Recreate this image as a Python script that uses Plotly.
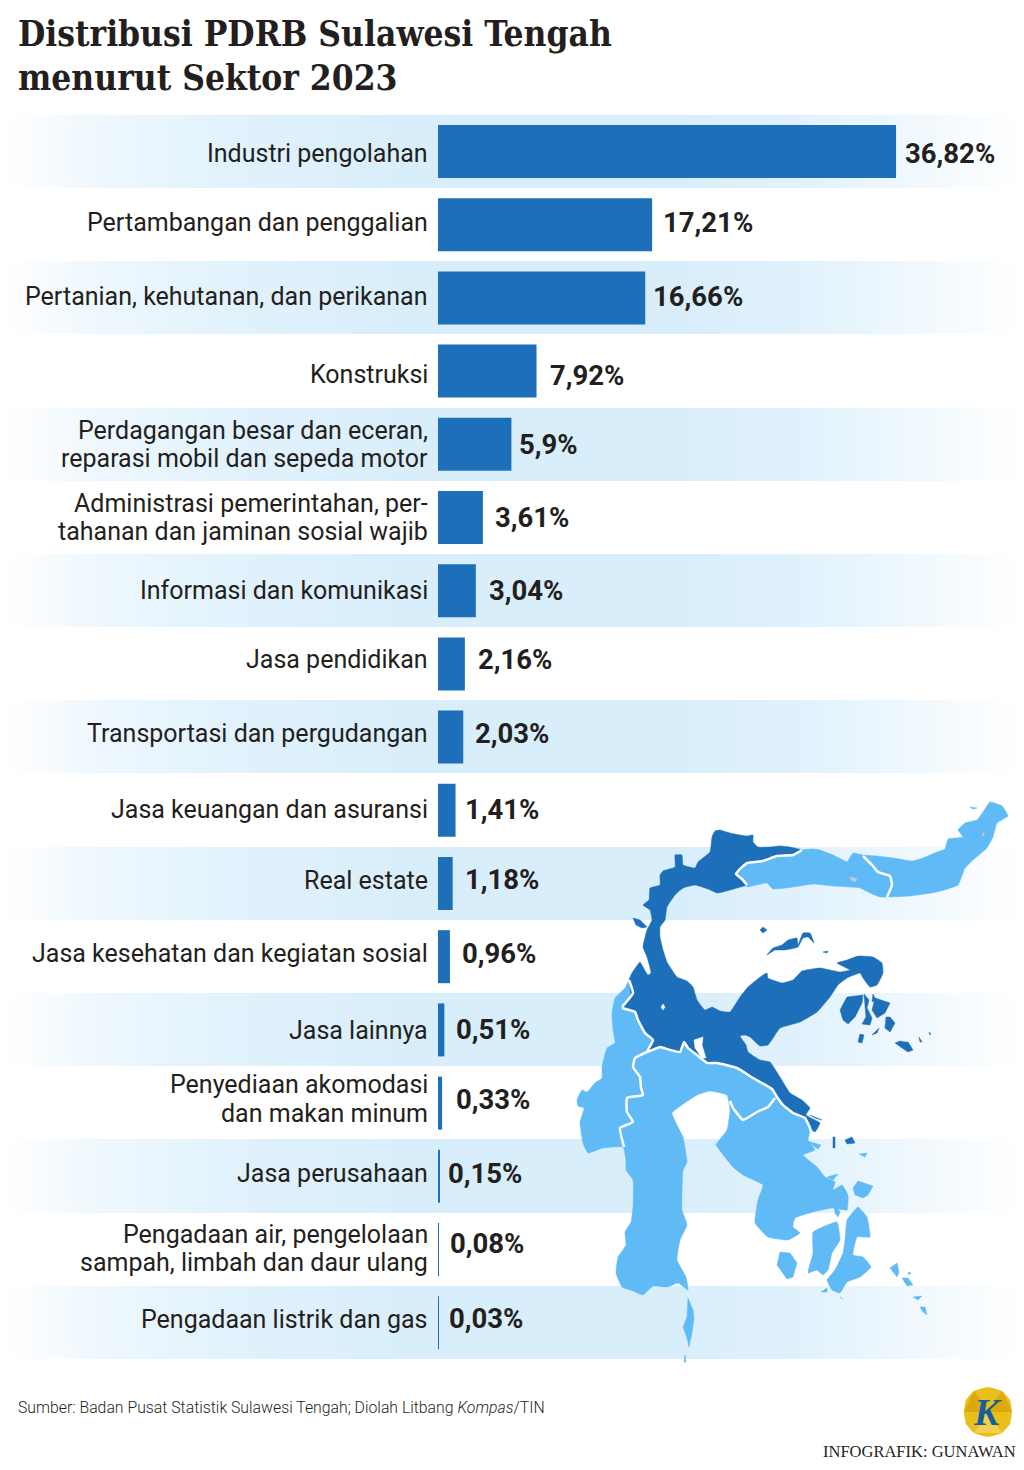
import numpy as np
import plotly.graph_objects as go

TITLE_LINES = ["Distribusi PDRB Sulawesi Tengah", "menurut Sektor 2023"]
SOURCE = "Sumber: Badan Pusat Statistik Sulawesi Tengah; Diolah Litbang <i>Kompas</i>/TIN"
CREDIT = "INFOGRAFIK: GUNAWAN"
categories = ["Industri pengolahan", "Pertambangan dan penggalian", "Pertanian, kehutanan, dan perikanan", "Konstruksi",
    "Perdagangan besar dan eceran,|reparasi mobil dan sepeda motor",
    "Administrasi pemerintahan, per-|tahanan dan jaminan sosial wajib",
    "Informasi dan komunikasi", "Jasa pendidikan", "Transportasi dan pergudangan", "Jasa keuangan dan asuransi",
    "Real estate", "Jasa kesehatan dan kegiatan sosial", "Jasa lainnya", "Penyediaan akomodasi|dan makan minum",
    "Jasa perusahaan", "Pengadaan air, pengelolaan|sampah, limbah dan daur ulang", "Pengadaan listrik dan gas"]
values = [36.82, 17.21, 16.66, 7.92, 5.9, 3.61, 3.04, 2.16, 2.03, 1.41, 1.18, 0.96, 0.51, 0.33, 0.15, 0.08, 0.03]
value_text = ["36,82%", "17,21%", "16,66%", "7,92%", "5,9%", "3,61%", "3,04%", "2,16%", "2,03%", "1,41%", "1,18%", "0,96%", "0,51%", "0,33%", "0,15%", "0,08%", "0,03%"]

# layout tuning (pixels)
value_gap = [7, 9, 6, 11, 6, 10, 11, 11, 10, 7, 10, 10, 10, 12, 6, 9, 9]
value_dy = [1.5, -2.7, -1, 3.9, -.3, -.5, -.7, -4.9, -4.1, -1.3, -4.5, -3.7, 0, -4.1, -3.3, -6.5, -4.7]
label_dy = [1.5, -2.7, -1, 2.9, 0, 0, -.7, -4.9, -4.1, -1.3, -3.5, -3.7, 1, -4, -3.3, -1, -3.7]
BLUE, LIGHT, BAND = "#1c6fb8", "#60baf5", "#d9eefb"
PXU, ROW, Y0 = 12.44, 73.2, 151.5

# map outlines (page pixels)
map_dark = [
 [(712,837),(715,831),(720,830),(730,833),(740,835),(747,836),(753,835),(753,842),(758,847),(770,847),(780,846),(790,847),(802,850),(793,855),(777,856),(763,861),(747,863),(739,870),(736,874),(742,879),(747,885),(737,888),(723,892),(717,893),(708,889),(695,885),(683,888),(675,895),(667,907),(665,920),(660,927),(660,937),(663,950),(667,962),(677,977),(687,981),(693,987),(697,1000),(705,1010),(712,1007),(720,1011),(730,1012),(740,997),(748,987),(763,975),(767,973),(768,978),(782,983),(793,980),(802,971),(820,968),(830,970),(840,972),(850,970),(837,963),(847,960),(858,956),(873,957),(882,963),(883,973),(877,985),(870,987),(863,978),(860,973),(847,978),(838,985),(830,997),(817,1012),(800,1022),(780,1028),(775,1035),(768,1045),(760,1046),(750,1037),(745,1035),(740,1036),(746,1045),(748,1052),(760,1060),(770,1062),(780,1077),(790,1093),(802,1100),(810,1108),(806,1115),(820,1123),(815,1132),(810,1128),(805,1118),(793,1113),(783,1105),(777,1097),(772,1089),(757,1082),(753,1078),(737,1068),(717,1063),(707,1063),(697,1055),(688,1048),(684,1042),(680,1052),(670,1050),(660,1047),(647,1052),(653,1040),(645,1033),(638,1020),(635,1012),(622,1008),(630,995),(629,980),(632,973),(640,962),(643,967),(648,975),(651,973),(647,957),(643,947),(647,930),(652,920),(650,910),(643,905),(649,900),(650,888),(660,885),(660,875),(663,871),(675,867),(675,855),(682,855),(683,865),(695,868),(698,862),(710,852)],
 [(760,930),(763,927),(767,930),(763,933)],
 [(767,955),(773,948),(782,945),(788,940),(797,938),(798,945),(803,933),(810,933),(814,943),(808,937),(803,938),(798,947),(785,950),(775,950)],
 [(633,918),(640,920),(647,927),(642,928),(636,925)],
 [(840,1010),(847,997),(863,995),(862,1003),(855,1017),(848,1024),(843,1020)],
 [(864,994),(869,1000),(867,1008),(872,1018),(870,1025),(862,1024),(866,1017),(865,1003)],
 [(875,998),(890,1003),(885,1013),(877,1018),(872,1010)],
 [(873,994),(876,1000),(872,1002)],
 [(886,1017),(890,1017),(895,1023),(890,1032),(885,1028)],
 [(860,1034),(864,1035),(862,1043),(858,1042)],
 [(872,1035),(879,1028),(877,1033)],
 [(895,1043),(900,1041),(905,1042),(908,1042),(913,1050),(908,1052),(902,1048)],
 [(919,1037),(922,1042),(920,1042)],
 [(929,1032),(931,1034),(930,1035)],
 [(823,952),(828,951),(827,953)],
 [(810,1115),(822,1120),(815,1118)],
 [(833,1137),(835,1137),(835,1148),(833,1148)],
 [(845,1140),(852,1137),(855,1143),(847,1144)],
]
map_light = [
 [(802,850),(812,849),(820,850),(833,855),(843,860),(847,862),(853,853),(863,855),(877,856),(893,858),(912,861),(923,858),(937,852),(945,849),(948,839),(963,837),(958,830),(965,823),(977,820),(983,812),(990,802),(1002,806),(1008,816),(997,823),(993,837),(987,848),(973,860),(965,868),(958,885),(937,892),(910,896),(880,897),(870,893),(860,888),(833,886),(813,884),(793,887),(773,889),(767,883),(747,887),(747,885),(742,879),(736,874),(739,870),(747,863),(763,861),(777,856),(793,855)],
 [(629,980),(625,988),(615,998),(612,1013),(613,1030),(615,1043),(607,1048),(602,1067),(602,1078),(595,1083),(587,1092),(582,1090),(577,1100),(578,1106),(584,1108),(580,1122),(583,1143),(588,1153),(603,1148),(623,1147),(626,1160),(626,1170),(633,1180),(633,1207),(631,1222),(625,1232),(626,1245),(618,1257),(616,1273),(622,1287),(633,1291),(643,1295),(653,1286),(667,1287),(678,1283),(688,1290),(686,1277),(677,1260),(680,1240),(687,1225),(682,1210),(682,1190),(683,1170),(687,1162),(683,1137),(678,1127),(672,1113),(697,1095),(710,1091),(727,1095),(730,1110),(727,1130),(717,1143),(716,1145),(733,1167),(743,1175),(763,1185),(758,1200),(755,1223),(768,1237),(788,1240),(800,1233),(793,1227),(795,1218),(813,1212),(832,1208),(847,1210),(848,1195),(842,1185),(833,1190),(835,1182),(825,1177),(817,1167),(803,1155),(815,1150),(808,1140),(810,1132),(810,1128),(805,1118),(793,1113),(783,1105),(777,1097),(772,1089),(757,1082),(753,1078),(737,1068),(717,1063),(707,1063),(697,1055),(688,1048),(684,1042),(680,1052),(670,1050),(660,1047),(647,1052),(653,1040),(645,1033),(638,1020),(635,1012),(622,1008),(630,995)],
 [(853,1188),(858,1181),(873,1186),(868,1195),(863,1198),(855,1195)],
 [(845,1240),(847,1220),(858,1207),(867,1217),(870,1237),(863,1237),(857,1237),(853,1255),(863,1257),(871,1267),(860,1277),(847,1282),(840,1293),(832,1290),(827,1280),(835,1270),(843,1253)],
 [(813,1232),(837,1222),(840,1240),(832,1253),(828,1270),(823,1275),(817,1270),(808,1273),(813,1253)],
 [(780,1252),(790,1253),(797,1263),(793,1277),(787,1279),(777,1265)],
 [(821,1292),(827,1288),(827,1292)],
 [(840,1297),(843,1299),(841,1298)],
 [(890,1268),(897,1263),(899,1272),(897,1277)],
 [(902,1278),(908,1278),(913,1285),(907,1286)],
 [(913,1297),(922,1296),(918,1300)],
 [(920,1307),(925,1307),(927,1315),(923,1312)],
 [(908,1272),(911,1273),(909,1275)],
 [(859,1154),(867,1153),(865,1157)],
 [(807,1141),(821,1145),(818,1149),(812,1145)],
 [(827,1177),(838,1174),(833,1180)],
 [(834,1204),(840,1212),(838,1217),(835,1213)],
 [(688,1298),(693,1310),(694,1318),(692,1333),(689,1347),(687,1338),(683,1327),(687,1317)],
 [(685,1355),(686,1362),(684,1362)],
 [(970,807),(977,808),(973,809)],
]
map_borders = [
 [(622,1008),(635,1012),(638,1020),(645,1033),(653,1040),(647,1052),(660,1047),(670,1050),(680,1052),(684,1042),(688,1048),(697,1055),(707,1063),(717,1063),(737,1068),(753,1078),(772,1089),(777,1097),(783,1105),(793,1113),(805,1118),(810,1128),(812,1136)],
 [(647,1052),(635,1058),(633,1067),(640,1077),(641,1088),(643,1095),(627,1098),(627,1112),(633,1122),(620,1128),(624,1147)],
 [(775,1098),(768,1107),(757,1112),(743,1120),(733,1108),(730,1101)],
 [(802,850),(793,855),(777,856),(763,861),(747,863),(739,870),(736,874),(742,879),(747,885)],
 [(863,856),(872,865),(878,872),(890,876),(892,885),(887,897)],
 [(629,980),(633,993),(622,1007)],
]
map_holes = [
 [(694,1040),(703,1037),(702,1045),(706,1058),(702,1058),(695,1048)],
 [(661,1007),(663,1004),(665,1007),(663,1010)],
]
map_lakes = [
 [(850,877),(857,879),(855,882),(851,880)],
 [(982,835),(984,832),(984,836)],
]
logo = [(988,1387),(1002,1391),(1010,1400),(1012,1412),(1010,1424),(1002,1433),(988,1437),(974,1433),(966,1424),(964,1412),(966,1400),(974,1391)]
logo_facets = [([(974,1433),(1002,1433),(988,1412)], "#f2d04e"),
               ([(964,1412),(974,1391),(988,1412)], "#dca90c"),
               ([(1012,1412),(1002,1391),(988,1412)], "#dca90c")]

fig = go.Figure()

# background bands with fading ends
xs = np.arange(0, 1025, 2)
fade = np.interp(xs, [5, 100, 220, 400, 680, 800, 900, 1020], [0, .45, .75, 1, 1, .8, .45, 0])
edges, rows = [], []
for i in range(len(values)):
    edges.append(Y0 + ROW * (i - 0.5))
    rows.append(fade.tolist() if i % 2 == 0 else [None] * len(xs))
edges.append(Y0 + ROW * (len(values) - 0.5))
fig.add_trace(go.Heatmap(x=xs, y=edges, z=rows, zmin=0, zmax=1, showscale=False, hoverinfo="skip",
                         colorscale=[[0, "#ffffff"], [1, BAND]], xaxis="x", yaxis="y"))

def poly(items, color, lw=0.5):
    for it in items:
        pts = list(it) + [it[0]]
        line = dict(color=color, width=lw)
        if len(it) > 8:
            line.update(shape="spline", smoothing=0.35)
        fig.add_trace(go.Scatter(x=[p[0] for p in pts], y=[p[1] for p in pts], mode="lines", fill="toself",
                                 fillcolor=color, line=line, hoverinfo="skip", showlegend=False,
                                 xaxis="x", yaxis="y"))
poly(map_dark, BLUE)
poly(map_light, LIGHT)
poly(map_holes, "#ffffff")
poly(map_lakes, "#c4ccd0")
for b in map_borders:
    fig.add_trace(go.Scatter(x=[p[0] for p in b], y=[p[1] for p in b], mode="lines",
                             line=dict(color="#ffffff", width=2.5, shape="spline", smoothing=0.35), hoverinfo="skip", showlegend=False, xaxis="x", yaxis="y"))

poly([logo], "#eabf1c", 0)
for pts, col in logo_facets:
    poly([pts], col, 0)

# bars
fig.add_trace(go.Bar(x=values, y=list(range(len(values))), orientation="h", width=53 / ROW,
                     marker=dict(color=BLUE, line=dict(width=0)), hovertemplate="%{x}<extra></extra>", xaxis="x2", yaxis="y2"))

ann = []
for i, (c, v, t) in enumerate(zip(categories, values, value_text)):
    ann.append(dict(x=v, y=i, xref="x2", yref="y2", text=t, showarrow=False, xanchor="left", yanchor="middle",
                    xshift=value_gap[i], yshift=-value_dy[i], font=dict(family="Roboto", size=27.5, color="#231f20", weight="bold")))
    lines = c.split("|")
    for k, ln in enumerate(lines):
        off = (k - (len(lines) - 1) / 2) * 28.5
        ann.append(dict(x=0, y=i, xref="x2", yref="y2", text=ln, showarrow=False, xanchor="right", yanchor="middle",
                        xshift=-8, yshift=-(label_dy[i] + off), font=dict(family="Roboto", size=25, color="#231f20")))
for ln, py in zip(TITLE_LINES, (34, 78)):
    ann.append(dict(x=16 / 1024, y=1 - py / 1470, xref="paper", yref="paper", text=ln, showarrow=False, xanchor="left", yanchor="middle",
                    font=dict(family="DejaVu Serif Condensed", size=35, color="#231f20", weight="bold")))
ann.append(dict(x=16 / 1024, y=1 - 1407 / 1470, xref="paper", yref="paper", text=SOURCE, showarrow=False, xanchor="left", yanchor="middle",
                font=dict(family="Roboto", size=15.8, color="#231f20", weight=300)))
ann.append(dict(x=1018 / 1024, y=1 - 1451 / 1470, xref="paper", yref="paper", text=CREDIT, showarrow=False, xanchor="right", yanchor="middle",
                font=dict(family="Liberation Serif", size=16.5, color="#231f20")))
ann.append(dict(x=987 / 1024, y=1 - 1412 / 1470, xref="paper", yref="paper", text="<i><b>K</b></i>", showarrow=False, xanchor="center", yanchor="middle",
                font=dict(family="Liberation Serif", size=38, color="#14609f")))

hidden = dict(visible=False, showgrid=False, zeroline=False, fixedrange=True)
fig.update_layout(
    width=1024, height=1470, margin=dict(l=0, r=0, t=0, b=0), autosize=False,
    paper_bgcolor="#ffffff", plot_bgcolor="rgba(0,0,0,0)", showlegend=False,
    xaxis=dict(domain=[0, 1], range=[0, 1024], **hidden),
    yaxis=dict(domain=[0, 1], range=[1470, 0], **hidden),
    xaxis2=dict(domain=[438 / 1024, 1], range=[0, (1024 - 438) / PXU], anchor="y2", **hidden),
    yaxis2=dict(domain=[0, 1], range=[(1470 - Y0) / ROW, -Y0 / ROW], anchor="x2", **hidden),
    annotations=ann,
)
fig.write_html("out.html", post_script="document.body.style.margin='0';document.documentElement.style.overflow='hidden';", config={"displayModeBar": False})
